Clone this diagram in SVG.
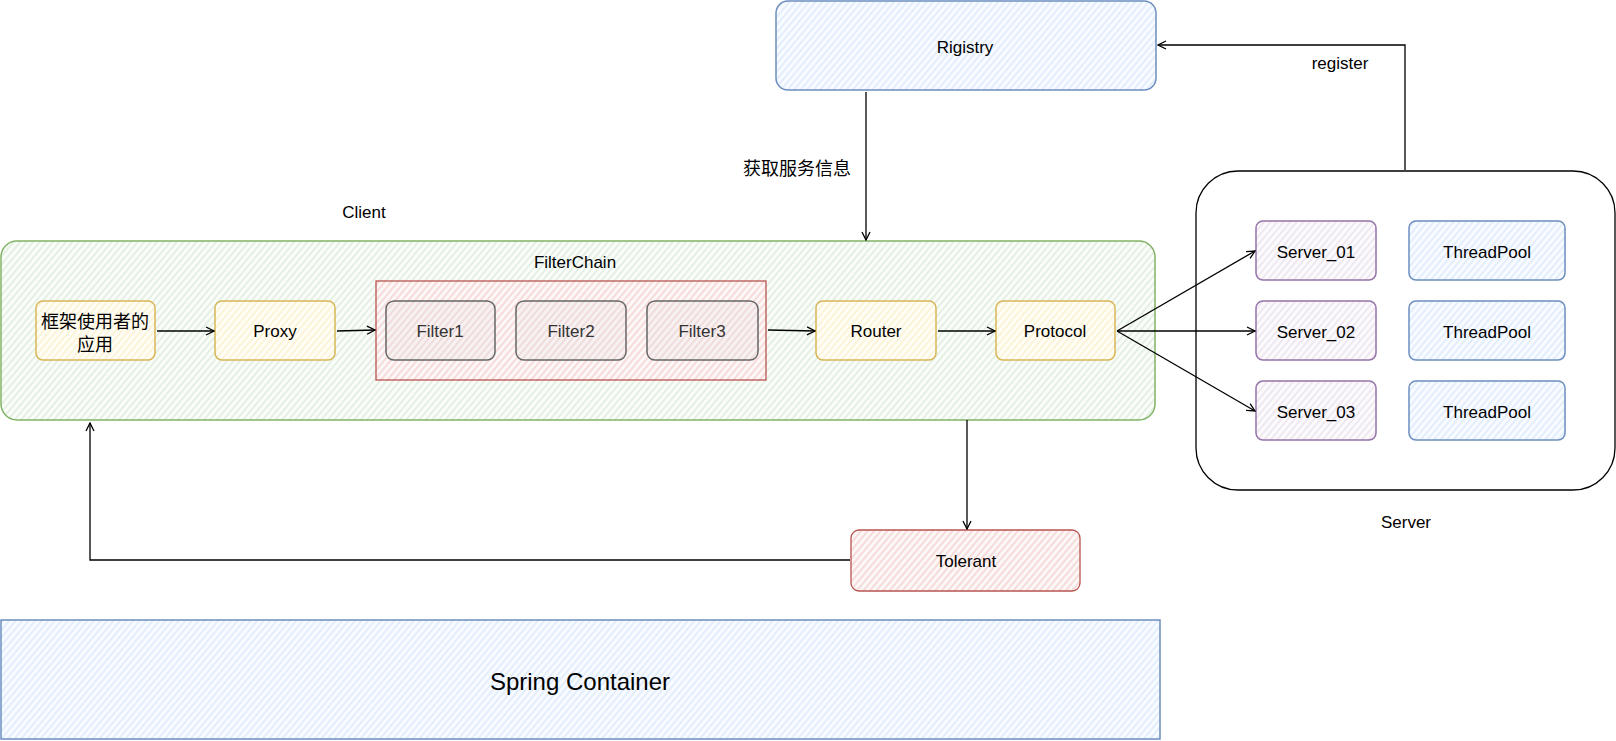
<svg xmlns="http://www.w3.org/2000/svg" width="1616" height="741" viewBox="0 0 1616 741">
<defs>
<pattern id="hg" patternUnits="userSpaceOnUse" width="5" height="5" patternTransform="rotate(40)"><rect width="5" height="5" fill="#fbfdfb"/><line x1="1" y1="0" x2="1" y2="5" stroke="#d5e8d4" stroke-width="1.2"/></pattern>
<pattern id="hr" patternUnits="userSpaceOnUse" width="5" height="5" patternTransform="rotate(40)"><rect width="5" height="5" fill="#fdf8f8"/><line x1="1" y1="0" x2="1" y2="5" stroke="#f4c8c6" stroke-width="1.2"/></pattern>
<pattern id="hy" patternUnits="userSpaceOnUse" width="5" height="5" patternTransform="rotate(40)"><rect width="5" height="5" fill="#fffdf6"/><line x1="1" y1="0" x2="1" y2="5" stroke="#fbeec4" stroke-width="1.2"/></pattern>
<pattern id="hb" patternUnits="userSpaceOnUse" width="5" height="5" patternTransform="rotate(40)"><rect width="5" height="5" fill="#f8fbff"/><line x1="1" y1="0" x2="1" y2="5" stroke="#d6e5fa" stroke-width="1.2"/></pattern>
<pattern id="hp" patternUnits="userSpaceOnUse" width="5" height="5" patternTransform="rotate(40)"><rect width="5" height="5" fill="#fcfafd"/><line x1="1" y1="0" x2="1" y2="5" stroke="#e6dcea" stroke-width="1.2"/></pattern>
<pattern id="hf" patternUnits="userSpaceOnUse" width="5" height="5" patternTransform="rotate(40)"><rect width="5" height="5" fill="#f8f1f1"/><line x1="1" y1="0" x2="1" y2="5" stroke="#eacfcf" stroke-width="1.2"/></pattern>
<marker id="ar" viewBox="0 0 10 10" refX="9" refY="5" markerWidth="10" markerHeight="10" markerUnits="userSpaceOnUse" orient="auto"><path d="M1,1 L9,5 L1,9" fill="none" stroke="#000" stroke-width="1.3"/></marker>
</defs>
<style>
text{font-family:"Liberation Sans","Noto Sans CJK SC",sans-serif;font-size:17px;fill:#000;text-anchor:middle;dominant-baseline:central}
.cjk{font-family:"Noto Sans CJK SC",sans-serif;font-size:18px}
.c{stroke:#000;stroke-width:1.3;fill:none;marker-end:url(#ar)}
.g{fill:url(#hg);stroke:#82b366;stroke-width:1.5}
.r{fill:url(#hr);stroke:#b85450;stroke-width:1.3}
.y{fill:url(#hy);stroke:#d6b656;stroke-width:1.5}
.b{fill:url(#hb);stroke:#6c8ebf;stroke-width:1.5}
.p{fill:url(#hp);stroke:#9673a6;stroke-width:1.5}
.f{fill:url(#hf);stroke:#666;stroke-width:1.5}
</style>
<rect width="1616" height="741" fill="#fff"/>
<g id="spring"><rect class="b" x="1" y="620" width="1159" height="119"/><text x="580" y="681" style="font-size:24px">Spring Container</text></g>
<g id="client"><rect class="g" x="1" y="241" width="1154" height="179" rx="16"/><text x="364" y="212">Client</text></g>
<g id="filterchain"><rect class="r" x="376" y="281" width="390" height="99"/><text x="575" y="262">FilterChain</text></g>
<g id="app"><rect class="y" x="36" y="301" width="119" height="59" rx="7"/><text class="cjk" x="95" y="320">框架使用者的</text><text class="cjk" x="95" y="343">应用</text></g>
<g id="proxy"><rect class="y" x="215" y="301" width="120" height="59" rx="7"/><text x="275" y="331">Proxy</text></g>
<g id="filter1"><rect class="f" x="386" y="301" width="109" height="59" rx="8"/><text x="440" y="331" style="fill:#333">Filter1</text></g>
<g id="filter2"><rect class="f" x="516" y="301" width="110" height="59" rx="8"/><text x="571" y="331" style="fill:#333">Filter2</text></g>
<g id="filter3"><rect class="f" x="647" y="301" width="111" height="59" rx="8"/><text x="702" y="331" style="fill:#333">Filter3</text></g>
<g id="router"><rect class="y" x="816" y="301" width="120" height="59" rx="7"/><text x="876" y="331">Router</text></g>
<g id="protocol"><rect class="y" x="996" y="301" width="119" height="59" rx="7"/><text x="1055" y="331">Protocol</text></g>
<g id="registry"><rect class="b" x="776" y="1" width="380" height="89" rx="12"/><text x="965" y="47">Rigistry</text></g>
<g id="tolerant"><rect class="r" x="851" y="530" width="229" height="61" rx="8"/><text x="966" y="561">Tolerant</text></g>
<g id="server"><rect x="1196" y="171" width="419" height="319" rx="42" fill="#fff" stroke="#000" stroke-width="1.3"/><text x="1406" y="522">Server</text></g>
<g id="server01"><rect class="p" x="1256" y="221" width="120" height="59" rx="7"/><text x="1316" y="252">Server_01</text></g>
<g id="server02"><rect class="p" x="1256" y="301" width="120" height="59" rx="7"/><text x="1316" y="332">Server_02</text></g>
<g id="server03"><rect class="p" x="1256" y="381" width="120" height="59" rx="7"/><text x="1316" y="412">Server_03</text></g>
<g id="tp1"><rect class="b" x="1409" y="221" width="156" height="59" rx="7"/><text x="1487" y="252">ThreadPool</text></g>
<g id="tp2"><rect class="b" x="1409" y="301" width="156" height="59" rx="7"/><text x="1487" y="332">ThreadPool</text></g>
<g id="tp3"><rect class="b" x="1409" y="381" width="156" height="59" rx="7"/><text x="1487" y="412">ThreadPool</text></g>
<g id="connectors">
<path class="c" d="M157,331 L214,331"/>
<path class="c" d="M337,331 L375,330"/>
<path class="c" d="M768,330 L815,331"/>
<path class="c" d="M938,331 L995,331"/>
<path class="c" d="M1117,331 L1255,251"/>
<path class="c" d="M1117,331 L1255,331"/>
<path class="c" d="M1117,331 L1255,411"/>
<path class="c" d="M866,92 L866,240"/>
<text class="cjk" x="797" y="167">获取服务信息</text>
<path class="c" d="M1405,170 L1405,45 L1158,45"/>
<text x="1340" y="63">register</text>
<path class="c" d="M967,420 L967,529"/>
<path class="c" d="M850,560 L90,560 L90,423"/>
</g>
</svg>
